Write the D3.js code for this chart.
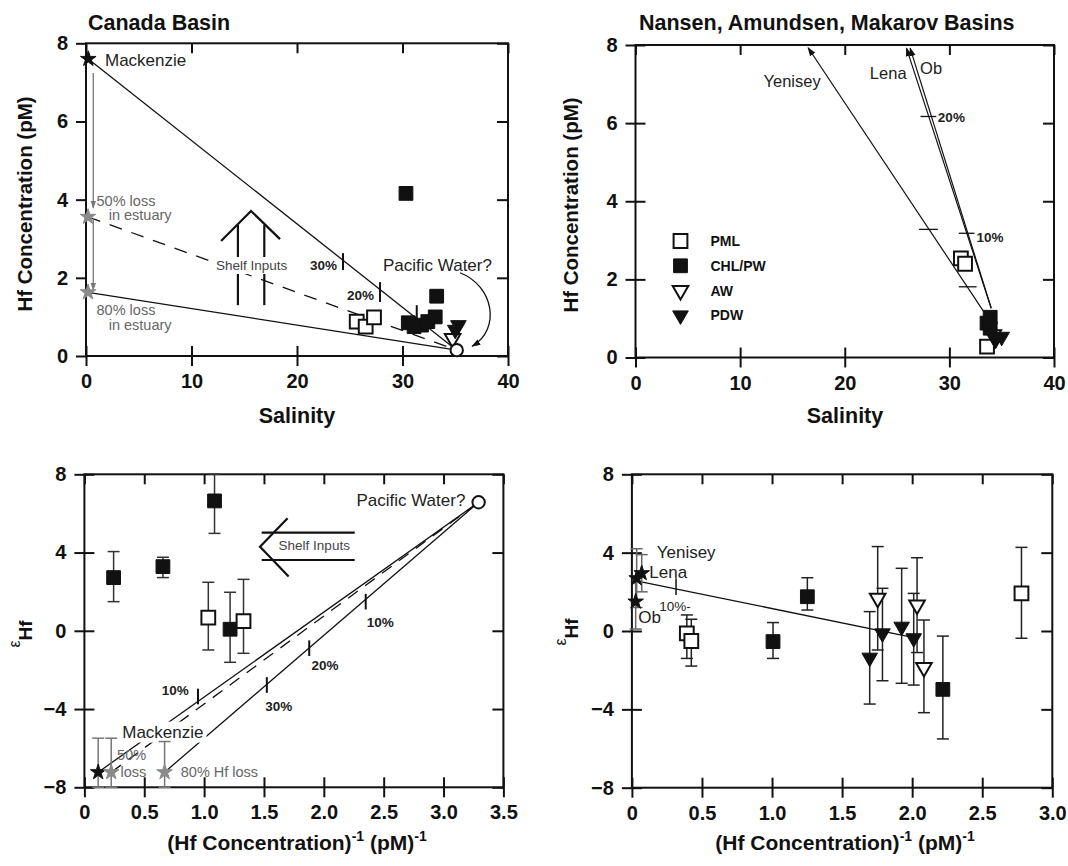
<!DOCTYPE html>
<html>
<head>
<meta charset="utf-8">
<script src="https://cdn.jsdelivr.net/npm/d3@7"></script>
<style>
  body { margin: 0; background: #fff; }
  svg { display: block; }
  text { font-family: "Liberation Sans", Arial, Helvetica, sans-serif; }
</style>
</head>
<body>
<div id="chart"></div>
<script>
// ---------------- data ----------------
// Canada Basin: salinity vs Hf (pM)
const cbPML  = [[25.66, 0.88], [26.51, 0.75], [27.3, 0.99]];
const cbCHL  = [[30.33, 4.16], [33.24, 1.53], [30.55, 0.85], [31.1, 0.75], [31.8, 0.79], [32.4, 0.88], [33.1, 1.0]];
const cbAW   = [[34.75, 0.45]];
const cbPDW  = [[35.3, 0.79], [35.0, 0.67]];
const cbMackenzie = [0.22, 7.6];
const cbLoss50 = [0.19, 3.56];
const cbLoss80 = [0.19, 1.63];
const cbPacific = [35.14, 0.15];
const cbPctTicks = [[24.36, 2.63, 2.2], [27.87, 1.89, 1.38], [31.35, 1.3, 0.79]]; // S, top, bottom

// Nansen / Amundsen / Makarov: salinity vs Hf (pM)
const nabPML = [[31.1, 2.54], [31.5, 2.4], [33.6, 0.28]];
const nabCHL = [[33.9, 1.03], [33.6, 0.88], [33.9, 0.75]];
const nabAW  = [[34.2, 0.58]];
const nabPDW = [[35.0, 0.53], [34.4, 0.45]];
const nabYenisey = [[33.3, 1.17], [16.5, 7.93]];
const nabLena = [[34.0, 1.26], [25.9, 7.92]];
const nabOb = [[34.0, 1.26], [26.25, 7.92]];
const nabPctTicks = [[27.24, 28.75, 6.17], [27.1, 28.9, 3.28], [30.9, 32.4, 3.18], [30.9, 32.6, 1.81]]; // S1, S2, C
const legendNames = ["PML", "CHL/PW", "AW", "PDW"];

// Canada Basin: 1/Hf vs eHf  [x, e, hi, lo]
const cbePML = [[1.035, 0.67, 2.48, -0.98], [1.329, 0.5, 2.63, -1.15]];
const cbeCHL = [[0.244, 2.72, 4.05, 1.49], [0.656, 3.28, 3.76, 2.72], [1.087, 6.64, 8.0, 4.98], [1.217, 0.08, 1.97, -1.61]];
const cbeMackenzie = [[0.115, -7.23, -5.49, -8]];
const cbeLossStars = [[0.224, -7.23, -5.49, -8], [0.67, -7.23, -5.66, -8]];
const cbePacific = [3.293, 6.57];
const cbePctTicks = [[0.949, -3.36], [1.524, -2.77], [1.878, -0.89], [2.35, 1.49]];

// Nansen etc: 1/Hf vs eHf  [x, e, hi, lo]
const nabePML = [[0.392, -0.12, 0.82, -1.4], [0.424, -0.51, 0.6, -1.79], [2.78, 1.92, 4.27, -0.37]];
const nabeCHL = [[1.007, -0.54, 0.43, -1.4], [1.252, 1.75, 2.72, 1.07], [2.219, -2.98, -0.26, -5.51]];
const nabeAW  = [[1.754, 1.67, 4.31, -0.97], [2.035, 1.33, 3.74, -1.1], [2.084, -1.86, 0.56, -4.17]];
const nabePDW = [[1.697, -1.36, 0.99, -3.73], [1.788, -0.12, 2.18, -2.54], [1.925, 0.22, 3.2, -2.67], [2.011, -0.37, 1.92, -2.76]];
const nabeRivers = [[0.034, 2.69, 4.2, 1.2], [0.07, 2.95, 3.9, 2.0], [0.027, 1.5, 2.8, 0.1]]; // Yenisey, Lena, Ob
const nabeMix = [[0.058, 2.52], [2.003, -0.32]];

const salTicks = [0, 10, 20, 30, 40];
const hfTicks = [0, 2, 4, 6, 8];
const epsTicks = [-8, -4, 0, 4, 8];
const invTicks3 = [0, 0.5, 1, 1.5, 2, 2.5, 3, 3.5];
const invTicks4 = [0, 0.5, 1, 1.5, 2, 2.5, 3];

// ---------------- setup ----------------
const W = 1068, H = 866;
const svg = d3.select("#chart").append("svg").attr("width", W).attr("height", H);
svg.append("rect").attr("width", W).attr("height", H).attr("fill", "#fff");
const defs = svg.append("defs");

function arrowMarker(id, color, size) {
  defs.append("marker").attr("id", id)
    .attr("viewBox", "0 0 10 10").attr("refX", 9).attr("refY", 5)
    .attr("markerWidth", size).attr("markerHeight", size)
    .attr("markerUnits", "userSpaceOnUse").attr("orient", "auto")
    .append("path").attr("d", "M0,1.5L10,5L0,8.5Z").attr("fill", color);
}
arrowMarker("ahBlack", "#111", 9);
arrowMarker("ahGrey", "#777", 8);

const INK = "#111";
const numFmt1 = d => d === 0 ? "0" : d3.format(".1f")(d);

function panel(cfg) {
  const g = svg.append("g").attr("transform", `translate(${cfg.left},${cfg.top})`);
  const x = d3.scaleLinear().domain(cfg.xDomain).range([0, cfg.w]);
  const y = d3.scaleLinear().domain(cfg.yDomain).range([cfg.h, 0]);
  const tl = 10;

  const axes = g.append("g");
  axes.append("g").call(d3.axisLeft(y).tickValues(cfg.yTicks).tickSize(tl).tickPadding(8).tickFormat(d3.format("d")));
  if (cfg.crossLeft) axes.append("g").call(d3.axisRight(y).tickValues(cfg.yTicks).tickSize(tl).tickFormat(""));
  axes.append("g").attr("transform", `translate(0,${cfg.h})`)
    .call(d3.axisBottom(x).tickValues(cfg.xTicks).tickSize(tl).tickPadding(8).tickFormat(cfg.xFmt));
  axes.append("g").attr("transform", `translate(0,${cfg.h})`)
    .call(d3.axisTop(x).tickValues(cfg.xTicks).tickSize(tl).tickFormat(""));
  axes.append("g").call(d3.axisBottom(x).tickValues(cfg.xTicks).tickSize(tl).tickFormat(""));
  axes.append("g").attr("transform", `translate(${cfg.w},0)`)
    .call(d3.axisLeft(y).tickValues(cfg.yTicks).tickSize(11).tickFormat(""));
  axes.selectAll(".domain").remove();
  axes.selectAll(".tick line").attr("stroke", INK).attr("stroke-width", 2);
  axes.selectAll(".tick text")
    .attr("font-size", 20).attr("font-weight", "bold").attr("fill", INK)
    .attr("font-family", "'Liberation Sans', Arial, sans-serif");
  axes.selectAll("g").attr("font-family", null).attr("font-size", null);

  g.append("rect").attr("width", cfg.w).attr("height", cfg.h)
    .attr("fill", "none").attr("stroke", INK).attr("stroke-width", 2);

  const layer = g.append("g");
  return { g: layer, x, y };
}

function seg(p, a, b, o = {}) {
  const l = p.g.append("line")
    .attr("x1", p.x(a[0])).attr("y1", p.y(a[1]))
    .attr("x2", p.x(b[0])).attr("y2", p.y(b[1]))
    .attr("stroke", o.color || INK).attr("stroke-width", o.width || 1.3);
  if (o.dash) l.attr("stroke-dasharray", o.dash);
  if (o.arrow) l.attr("marker-end", `url(#${o.arrow})`);
  return l;
}

function label(p, xv, yv, str, o = {}) {
  const t = p.g.append("text")
    .attr("x", p.x(xv)).attr("y", p.y(yv))
    .attr("font-size", o.size || 17)
    .attr("font-weight", o.bold ? "bold" : "normal")
    .attr("fill", o.color || "#222")
    .attr("text-anchor", o.anchor || "start")
    .text(str);
  if (o.bg) {
    const b = t.node().getBBox();
    p.g.insert("rect", () => t.node())
      .attr("x", b.x - 3).attr("y", b.y - 1).attr("width", b.width + 6).attr("height", b.height + 2)
      .attr("fill", "#fff");
  }
  return t;
}

const symSquare = d3.symbol(d3.symbolSquare, 190)();
const symTri = d3.symbol(d3.symbolTriangle, 105)();
const symStar = d3.symbol(d3.symbolStar, 75)();
const symCircle = d3.symbol(d3.symbolCircle, 120)();

function marks(p, rows, kind) {
  const open = kind.startsWith("open");
  const grey = kind === "greyStar";
  const shape = kind.endsWith("Sq") ? symSquare : kind.endsWith("Tri") ? symTri :
                kind.endsWith("Star") ? symStar : symCircle;
  p.g.append("g").selectAll("path").data(rows).join("path")
    .attr("transform", d => `translate(${p.x(d[0])},${p.y(d[1])})` + (kind.endsWith("Tri") ? " rotate(180)" : ""))
    .attr("d", shape)
    .attr("fill", open ? "#fff" : (grey ? "#8a8a8a" : INK))
    .attr("stroke", grey ? "#8a8a8a" : INK)
    .attr("stroke-width", open ? 2 : 1);
}

function errBars(p, rows, color, cap = 6) {
  const eg = p.g.append("g").attr("stroke", color).attr("stroke-width", 1.5);
  rows.forEach(d => {
    const xp = p.x(d[0]);
    eg.append("line").attr("x1", xp).attr("x2", xp).attr("y1", p.y(d[2])).attr("y2", p.y(d[3]));
    [d[2], d[3]].forEach(v => eg.append("line")
      .attr("x1", xp - cap).attr("x2", xp + cap).attr("y1", p.y(v)).attr("y2", p.y(v)));
  });
}

// titles and axis titles
function svgText(xp, yp, str, size, bold, anchor = "start", rot = false) {
  const t = svg.append("text")
    .attr("font-size", size).attr("font-weight", bold ? "bold" : "normal")
    .attr("fill", INK).attr("text-anchor", anchor).text(str);
  if (rot) t.attr("transform", `translate(${xp},${yp}) rotate(-90)`);
  else t.attr("x", xp).attr("y", yp);
  return t;
}
svgText(88, 30, "Canada Basin", 21.5, true);
svgText(639, 30, "Nansen, Amundsen, Makarov Basins", 21.5, true);
svgText(32, 204, "Hf Concentration (pM)", 20.5, true, "middle", true);
svgText(578, 205, "Hf Concentration (pM)", 20.5, true, "middle", true);
svgText(297, 423, "Salinity", 21.5, true, "middle");
svgText(845, 423, "Salinity", 21.5, true, "middle");

function invTitle(cx) {
  const t = svg.append("text").attr("x", cx).attr("y", 850).attr("text-anchor", "middle")
    .attr("font-size", 21).attr("font-weight", "bold").attr("fill", INK);
  t.append("tspan").text("(Hf Concentration)");
  t.append("tspan").attr("dy", -9).attr("font-size", 14).text("-1");
  t.append("tspan").attr("dy", 9).text(" (pM)");
  t.append("tspan").attr("dy", -9).attr("font-size", 14).text("-1");
}
invTitle(297);
invTitle(845);

function epsTitle(bx, cy) {
  const t = svg.append("text").attr("transform", `translate(${bx},${cy}) rotate(-90)`)
    .attr("text-anchor", "middle").attr("fill", INK);
  t.append("tspan").attr("font-size", 16).text("ε");
  t.append("tspan").attr("dy", 12).attr("font-size", 19).attr("font-weight", "bold").text("Hf");
}
epsTitle(20, 634);
epsTitle(566, 632);

// ---------------- panel 1: Canada Basin ----------------
const p1 = panel({ left: 86, top: 43.3, w: 422, h: 312.7, xDomain: [0, 40], yDomain: [0, 8],
  xTicks: salTicks, yTicks: hfTicks, xFmt: d3.format("d"), crossLeft: false });

seg(p1, cbMackenzie, cbPacific);
seg(p1, cbLoss50, cbPacific, { dash: "13,10" });
seg(p1, cbLoss80, cbPacific);
seg(p1, [0.69, 7.24], [0.69, 3.79], { color: "#777", arrow: "ahGrey" });
seg(p1, [0.69, 3.53], [0.69, 1.69], { color: "#777", arrow: "ahGrey" });
cbPctTicks.forEach(t => seg(p1, [t[0], t[1]], [t[0], t[2]], { width: 2 }));

// shelf inputs arrow
seg(p1, [14.4, 1.3], [14.4, 3.35], { width: 2.2 });
seg(p1, [16.9, 1.3], [16.9, 3.35], { width: 2.2 });
p1.g.append("path")
  .attr("d", d3.line()([[p1.x(12.8), p1.y(2.94)], [p1.x(15.64), p1.y(3.71)], [p1.x(18.39), p1.y(2.99)]]))
  .attr("fill", "none").attr("stroke", INK).attr("stroke-width", 2.2);
label(p1, 15.7, 2.2, "Shelf Inputs", { size: 13.5, color: "#444", anchor: "middle", bg: true });

// pacific water curved arrow
{
  const pth = d3.path();
  pth.moveTo(p1.x(35.45), p1.y(2.13));
  pth.bezierCurveTo(p1.x(38.6), p1.y(1.8), p1.x(39.4), p1.y(0.7), p1.x(36.6), p1.y(0.25));
  p1.g.append("path").attr("d", pth.toString()).attr("fill", "none")
    .attr("stroke", INK).attr("stroke-width", 1.3).attr("marker-end", "url(#ahBlack)");
}

label(p1, 1.8, 7.42, "Mackenzie", { size: 17 });
label(p1, 1.0, 3.84, "50% loss", { size: 14.5, color: "#666" });
label(p1, 2.15, 3.48, "in estuary", { size: 14.5, color: "#666" });
label(p1, 1.0, 1.05, "80% loss", { size: 14.5, color: "#666" });
label(p1, 2.15, 0.67, "in estuary", { size: 14.5, color: "#666" });
label(p1, 23.8, 2.2, "30%", { size: 13.5, bold: true, anchor: "end" });
label(p1, 27.3, 1.43, "20%", { size: 13.5, bold: true, anchor: "end" });
label(p1, 28.15, 2.17, "Pacific Water?", { size: 17 });

marks(p1, [cbMackenzie], "blackStar");
marks(p1, [cbLoss50, cbLoss80], "greyStar");
marks(p1, cbPML, "openSq");
marks(p1, cbCHL, "fillSq");
marks(p1, cbAW, "openTri");
marks(p1, cbPDW, "fillTri");
marks(p1, [cbPacific], "openCircle");

// ---------------- panel 2: Nansen, Amundsen, Makarov ----------------
const p2 = panel({ left: 635.5, top: 45, w: 418.5, h: 312.5, xDomain: [0, 40], yDomain: [0, 8],
  xTicks: salTicks, yTicks: hfTicks, xFmt: d3.format("d"), crossLeft: true });

seg(p2, nabYenisey[0], nabYenisey[1], { arrow: "ahBlack", width: 1.2 });
seg(p2, nabLena[0], nabLena[1], { arrow: "ahBlack", width: 1.2 });
seg(p2, nabOb[0], nabOb[1], { arrow: "ahBlack", width: 1.2 });
nabPctTicks.forEach(t => seg(p2, [t[0], t[2]], [t[1], t[2]], { width: 1.3 }));
label(p2, 17.7, 6.93, "Yenisey", { size: 16.5, anchor: "end" });
label(p2, 22.4, 7.13, "Lena", { size: 16.5 });
label(p2, 27.2, 7.26, "Ob", { size: 16.5 });
label(p2, 28.9, 6.03, "20%", { size: 13.5, bold: true });
label(p2, 32.6, 2.96, "10%", { size: 13.5, bold: true });

marks(p2, nabPML, "openSq");
marks(p2, nabAW, "openTri");
marks(p2, nabCHL, "fillSq");
marks(p2, nabPDW, "fillTri");

// legend
{
  const kinds = ["openSq", "fillSq", "openTri", "fillTri"];
  const lg = p2.g.append("g").attr("transform", "translate(45,196)");
  legendNames.forEach((name, i) => {
    const shape = kinds[i].endsWith("Sq") ? symSquare : symTri;
    const open = kinds[i].startsWith("open");
    lg.append("path")
      .attr("transform", `translate(0,${i * 24.8})` + (kinds[i].endsWith("Tri") ? " rotate(180)" : ""))
      .attr("d", shape).attr("fill", open ? "#fff" : INK).attr("stroke", INK).attr("stroke-width", open ? 2 : 1);
    lg.append("text").attr("x", 30).attr("y", i * 24.8 + 5)
      .attr("font-size", 14).attr("font-weight", "bold").attr("fill", INK).text(name);
  });
}

// ---------------- panel 3: Canada Basin eHf ----------------
const p3 = panel({ left: 84.4, top: 474.3, w: 419, h: 313, xDomain: [0, 3.5], yDomain: [-8, 8],
  xTicks: invTicks3, yTicks: epsTicks, xFmt: numFmt1, crossLeft: true });

seg(p3, cbeMackenzie[0], cbePacific);
seg(p3, cbeLossStars[0], cbePacific, { dash: "12,9" });
seg(p3, cbeLossStars[1], cbePacific);
cbePctTicks.forEach(t => seg(p3, [t[0], t[1] + 0.4], [t[0], t[1] - 0.4], { width: 2 }));

// shelf inputs arrow (pointing left)
seg(p3, [1.481, 5.02], [2.258, 5.02], { width: 2.2 });
seg(p3, [1.481, 3.62], [2.258, 3.62], { width: 2.2 });
p3.g.append("path")
  .attr("d", d3.line()([[p3.x(1.697), p3.y(5.75)], [p3.x(1.467), p3.y(4.3)], [p3.x(1.706), p3.y(2.77)]]))
  .attr("fill", "none").attr("stroke", INK).attr("stroke-width", 2.2);
label(p3, 1.92, 4.13, "Shelf Inputs", { size: 13.5, color: "#444", anchor: "middle", bg: true });

label(p3, 0.316, -5.46, "Mackenzie", { size: 17, bg: true });
label(p3, 0.273, -6.6, "50%", { size: 14.5, color: "#666" });
label(p3, 0.302, -7.49, "loss", { size: 14.5, color: "#666" });
label(p3, 0.805, -7.49, "80% Hf loss", { size: 14.5, color: "#666" });
label(p3, 0.647, -3.28, "10%", { size: 13.5, bold: true });
label(p3, 1.51, -4.08, "30%", { size: 13.5, bold: true });
label(p3, 1.898, -2.0, "20%", { size: 13.5, bold: true });
label(p3, 2.358, 0.21, "10%", { size: 13.5, bold: true });
label(p3, 2.272, 6.38, "Pacific Water?", { size: 17 });

errBars(p3, cbeMackenzie.concat(cbeLossStars), "#777");
errBars(p3, cbeCHL.concat(cbePML), "#333");
marks(p3, cbeMackenzie, "blackStar");
marks(p3, cbeLossStars, "greyStar");
marks(p3, cbeCHL, "fillSq");
marks(p3, cbePML, "openSq");
marks(p3, [cbePacific], "openCircle");

// ---------------- panel 4: Nansen etc eHf ----------------
const p4 = panel({ left: 631.9, top: 474.3, w: 420.4, h: 313.4, xDomain: [0, 3], yDomain: [-8, 8],
  xTicks: invTicks4, yTicks: epsTicks, xFmt: numFmt1, crossLeft: true });

seg(p4, nabeMix[0], nabeMix[1], { width: 1.3 });
seg(p4, [0.315, 2.69], [0.315, 1.84], { width: 1.5 });
errBars(p4, nabeRivers, "#666", 6);
errBars(p4, nabePML.concat(nabeCHL, nabeAW, nabePDW), "#222", 6);
marks(p4, nabeRivers, "blackStar");
marks(p4, nabePML, "openSq");
marks(p4, nabeCHL, "fillSq");
marks(p4, nabeAW, "openTri");
marks(p4, nabePDW, "fillTri");
label(p4, 0.177, 3.72, "Yenisey", { size: 17 });
label(p4, 0.124, 2.69, "Lena", { size: 17 });
label(p4, 0.196, 1.04, "10%-", { size: 13.5 });
label(p4, 0.046, 0.39, "Ob", { size: 17 });
</script>
</body>
</html>
